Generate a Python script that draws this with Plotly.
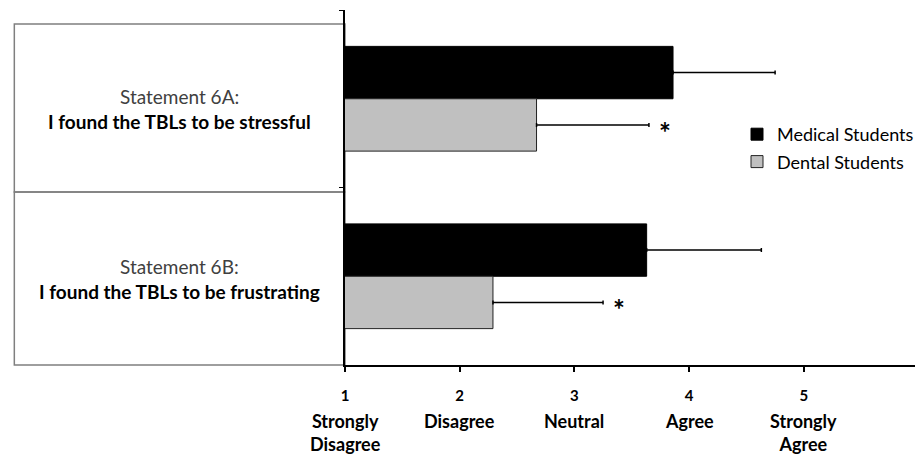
import plotly.graph_objects as go

# Survey statements (5-point Likert scale) and group results
statements = ["6A", "6B"]
statement_titles = ["Statement 6A:", "Statement 6B:"]
statement_texts = ["I found the TBLs to be stressful", "I found the TBLs to be frustrating"]

medical_mean = [3.86, 3.63]
medical_sd = [0.89, 1.00]
dental_mean = [2.67, 2.29]
dental_sd = [0.98, 0.96]

scale_values = [1, 2, 3, 4, 5]
scale_labels = ["Strongly<br>Disagree", "Disagree", "Neutral", "Agree", "Strongly<br>Agree"]

# statements with a significant group difference
significant = ["6A", "6B"]

FONT = "Lato"
W, H = 919, 458
ML, MR, MT, MB = 345, 0, 10, 93
PW, PH = W - ML - MR, H - MT - MB


def px_x(p):
    return (p - ML) / PW


def px_y(p):
    return (H - MB - p) / PH


fig = go.Figure()
fig.add_trace(go.Bar(
    y=statements, x=medical_mean, orientation="h", name="Medical Students",
    legendgroup="med",
    marker=dict(color="#000000", line=dict(color="#000000", width=1)),
    error_x=dict(type="data", array=medical_sd, arrayminus=[0] * len(medical_sd),
                 symmetric=False, color="#000000", thickness=1.5, width=2),
))
fig.add_trace(go.Bar(
    y=statements, x=dental_mean, orientation="h", name="Dental Students",
    legendgroup="den",
    marker=dict(color="#c0c0c0", line=dict(color="#222222", width=1)),
    error_x=dict(type="data", array=dental_sd, arrayminus=[0] * len(dental_sd),
                 symmetric=False, color="#000000", thickness=1.5, width=2),
))

# label boxes to the left of the axis
box_edges = [24, 192, 365]
for top, bottom in zip(box_edges[:-1], box_edges[1:]):
    fig.add_shape(type="rect", xref="paper", yref="paper",
                  x0=px_x(12), x1=px_x(345), y0=px_y(bottom), y1=px_y(top),
                  line=dict(color="#7f7f7f", width=1.5), layer="below")

title_rows = [96, 266]
text_rows = [121, 291]
for title, text, ty, sy in zip(statement_titles, statement_texts, title_rows, text_rows):
    fig.add_annotation(xref="paper", yref="paper", x=px_x(178), y=px_y(ty),
                       xanchor="center", yanchor="middle",
                       text=title, showarrow=False,
                       font=dict(family=FONT, size=19, color="#404040"))
    fig.add_annotation(xref="paper", yref="paper", x=px_x(178), y=px_y(sy),
                       xanchor="center", yanchor="middle",
                       text="<b>" + text + "</b>", showarrow=False,
                       font=dict(family=FONT, size=19, color="#000000"))

# scale descriptions under the numeric ticks
for v, lab in zip(scale_values, scale_labels):
    fig.add_annotation(xref="x", yref="paper", x=v, y=px_y(408),
                       xanchor="center", yanchor="top",
                       text="<b>" + lab + "</b>", showarrow=False,
                       font=dict(family=FONT, size=18, color="#000000"))

# significance markers beside the dental error bars
for s, m, sd in zip(statements, dental_mean, dental_sd):
    if s in significant:
        fig.add_annotation(xref="x", yref="y", x=m + sd, y=s, xshift=16, yshift=-33,
                           xanchor="center", yanchor="middle",
                           text="<b>*</b>", showarrow=False,
                           font=dict(family=FONT, size=28, color="#000000"))

fig.update_layout(
    width=W, height=H,
    margin=dict(l=ML, r=MR, t=MT, b=MB),
    paper_bgcolor="white", plot_bgcolor="white",
    barmode="group", bargap=0.41, bargroupgap=0,
    font=dict(family=FONT, color="#000000"),
    showlegend=True,
    legend=dict(x=px_x(740), y=px_y(116), xanchor="left", yanchor="top",
                traceorder="grouped", tracegroupgap=1,
                font=dict(family=FONT, size=18, color="#000000"),
                bgcolor="rgba(0,0,0,0)"),
    xaxis=dict(range=[1, 1 + PW / 115.5], tickvals=scale_values,
               ticktext=["<b>%d</b>" % v for v in scale_values],
               tickfont=dict(family=FONT, size=15, color="#000000"),
               showline=True, linecolor="#000000", linewidth=2,
               ticks="outside", ticklen=5, tickwidth=1.5, tickcolor="#000000",
               ticklabelstandoff=11,
               showgrid=False, zeroline=False, fixedrange=True),
    yaxis=dict(autorange="reversed", showticklabels=False,
               showline=True, linecolor="#000000", linewidth=2,
               ticks="outside", tickson="boundaries", ticklen=4, tickcolor="#000000",
               showgrid=False, zeroline=False, fixedrange=True),
)

fig.write_html("out.html")
